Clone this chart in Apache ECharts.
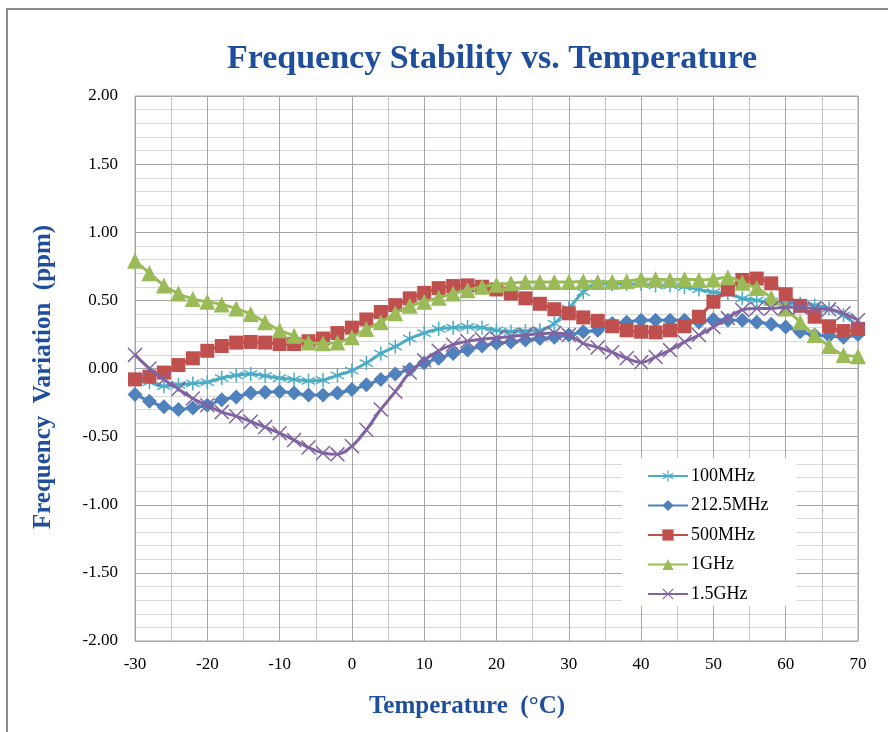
<!DOCTYPE html>
<html>
<head>
<meta charset="utf-8">
<script src="https://cdn.jsdelivr.net/npm/echarts@6/dist/echarts.min.js"></script>
<style>html,body{margin:0;padding:0;background:#fff;}#chart{width:888px;height:732px;}</style>
</head>
<body>
<div id="chart"></div>
<script>
const temps = [-30,-28,-26,-24,-22,-20,-18,-16,-14,-12,-10,-8,-6,-4,-2,0,2,4,6,8,10,12,14,16,18,20,22,24,26,28,30,32,34,36,38,40,42,44,46,48,50,52,54,56,58,60,62,64,66,68,70];

const f100MHz = [-0.08,-0.10,-0.13,-0.12,-0.11,-0.10,-0.07,-0.05,-0.04,-0.055,-0.07,-0.08,-0.09,-0.085,-0.05,-0.015,0.04,0.11,0.16,0.22,0.26,0.29,0.30,0.305,0.30,0.28,0.27,0.275,0.28,0.33,0.44,0.56,0.625,0.62,0.62,0.62,0.61,0.61,0.60,0.58,0.56,0.55,0.515,0.50,0.49,0.48,0.475,0.465,0.44,0.39,0.31];

const f212MHz = [-0.19,-0.24,-0.28,-0.30,-0.29,-0.27,-0.23,-0.21,-0.18,-0.175,-0.17,-0.18,-0.195,-0.195,-0.18,-0.155,-0.12,-0.08,-0.04,-0.005,0.04,0.075,0.11,0.135,0.165,0.185,0.195,0.21,0.22,0.23,0.245,0.27,0.28,0.33,0.34,0.355,0.355,0.355,0.355,0.34,0.36,0.355,0.355,0.34,0.325,0.305,0.27,0.245,0.24,0.23,0.25];

const f500MHz = [-0.08,-0.06,-0.03,0.025,0.075,0.13,0.165,0.19,0.195,0.19,0.18,0.18,0.20,0.22,0.26,0.30,0.36,0.415,0.465,0.515,0.555,0.59,0.605,0.61,0.60,0.58,0.55,0.515,0.475,0.435,0.405,0.375,0.35,0.31,0.28,0.27,0.265,0.28,0.31,0.38,0.49,0.58,0.65,0.66,0.625,0.545,0.46,0.38,0.31,0.275,0.29];

const f1GHz = [0.79,0.70,0.61,0.55,0.51,0.49,0.47,0.44,0.40,0.34,0.28,0.24,0.19,0.185,0.19,0.23,0.29,0.34,0.405,0.46,0.49,0.52,0.55,0.575,0.60,0.615,0.625,0.635,0.635,0.635,0.635,0.64,0.635,0.637,0.64,0.655,0.655,0.65,0.655,0.65,0.655,0.67,0.63,0.59,0.52,0.44,0.34,0.245,0.165,0.10,0.09];

const f15GHz = [0.10,0.00,-0.08,-0.15,-0.22,-0.27,-0.32,-0.35,-0.39,-0.43,-0.475,-0.525,-0.58,-0.62,-0.63,-0.57,-0.45,-0.30,-0.17,-0.03,0.06,0.13,0.175,0.20,0.215,0.225,0.235,0.245,0.255,0.26,0.245,0.185,0.155,0.12,0.075,0.045,0.085,0.135,0.195,0.245,0.305,0.37,0.43,0.44,0.44,0.45,0.45,0.44,0.435,0.405,0.355];

const seriesNames = ['100MHz','212.5MHz','500MHz','1GHz','1.5GHz'];
const seriesValues = [f100MHz, f212MHz, f500MHz, f1GHz, f15GHz];
const seriesColors = ['#4BACC6','#4F81BD','#C0504D','#9BBB59','#8064A2'];

const ASTER = 'path://M9 0L11 0L11 20L9 20Z M1.6 4.1L19.2 14.1L18.4 15.9L0.8 5.9Z M0.8 14.1L18.4 4.1L19.2 5.9L1.6 15.9Z';
const CROSS = 'path://M1.4 0L20 18.6L18.6 20L0 1.4Z M18.6 0L20 1.4L1.4 20L0 18.6Z';
const seriesSymbols = [ASTER,'diamond','rect','triangle',CROSS];
const seriesSymbolSizes = [14,15,14,16,15];

const serif = "'Liberation Serif','Times New Roman',serif";
const titleBlue = '#1F4E9D';

const chart = echarts.init(document.getElementById('chart'), null, {renderer:'canvas'});

const series = seriesNames.map((name, i) => ({
  name: name,
  type: 'line',
  data: temps.map((t, k) => [t, seriesValues[i][k]]),
  smooth: 0.35,
  symbol: seriesSymbols[i],
  symbolSize: seriesSymbolSizes[i],
  showAllSymbol: true,
  lineStyle: {color: seriesColors[i], width: 3},
  itemStyle: {color: seriesColors[i]},
  emphasis: {disabled: true},
  z: 2 + i
}));

chart.setOption({
  animation: false,
  backgroundColor: '#fff',
  title: {
    text: 'Frequency Stability vs. Temperature',
    left: 487, top: 37, textAlign: 'center',
    textStyle: {fontFamily: serif, fontSize: 34, fontWeight: 'bold', color: titleBlue}
  },
  grid: {left: 135, right: 30, top: 96, bottom: 91, show: true, borderColor: '#a6a6a6', borderWidth: 1},
  xAxis: {
    type: 'value', min: -30, max: 70, interval: 10,
    axisLine: {show: true, lineStyle: {color: '#a6a6a6'}},
    axisTick: {show: false},
    axisLabel: {fontFamily: serif, fontSize: 17, color: '#000', margin: 15},
    splitLine: {show: true, lineStyle: {color: '#a6a6a6', width: 1}},
    minorTick: {show: false, splitNumber: 2},
    minorSplitLine: {show: true, lineStyle: {color: '#c4c4c4', width: 1}}
  },
  yAxis: {
    type: 'value', min: -2, max: 2, interval: 0.5,
    axisLine: {show: true, lineStyle: {color: '#a6a6a6'}},
    axisTick: {show: false},
    axisLabel: {fontFamily: serif, fontSize: 17, color: '#000', margin: 17, formatter: v => v.toFixed(2)},
    splitLine: {show: true, lineStyle: {color: '#a6a6a6', width: 1}},
    minorTick: {show: false, splitNumber: 5},
    minorSplitLine: {show: true, lineStyle: {color: '#d9d9d9', width: 1}}
  },
  legend: {
    orient: 'vertical', left: 622, top: 458,
    padding: [9, 28, 3, 25],
    itemWidth: 40, itemHeight: 14, itemGap: 11.5,
    backgroundColor: '#fff',
    textStyle: {fontFamily: serif, fontSize: 18, color: '#000', padding: [0, 0, 0, -2]},
    data: seriesNames,
    z: 10
  },
  graphic: [
    {type: 'rect', shape: {x: 7, y: 9, width: 900, height: 760}, style: {fill: 'none', stroke: '#8c8c8c', lineWidth: 2}, silent: true, z: 100},
    {type: 'text', x: 44, y: 377, rotation: Math.PI / 2, style: {text: 'Frequency  Variation  (ppm)', font: "bold 25px 'Liberation Serif'", fill: titleBlue, align: 'center', verticalAlign: 'middle'}},
    {type: 'text', x: 467, y: 707, style: {text: 'Temperature  (°C)', font: "bold 25px 'Liberation Serif'", fill: titleBlue, align: 'center', verticalAlign: 'middle'}}
  ],
  series: series
});
</script>
</body>
</html>
